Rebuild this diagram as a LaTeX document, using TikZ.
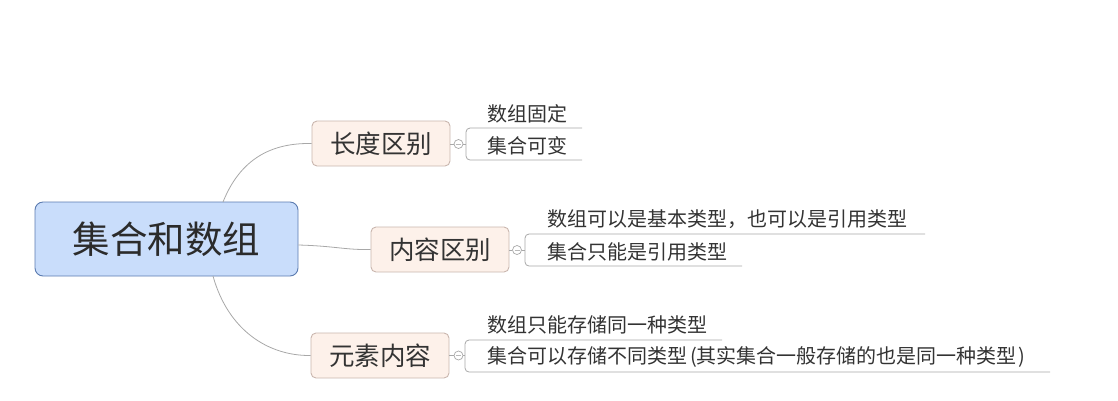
\documentclass[tikz,border=0pt]{standalone}
\usepackage{fontspec}
\newfontfamily\cjk{Noto Sans CJK SC}
\definecolor{rootfill}{HTML}{C9DDFB}
\definecolor{rootdraw}{HTML}{5B7BB0}
\definecolor{subfill}{HTML}{FDF1EA}
\definecolor{subdraw}{HTML}{C9B6AE}
\definecolor{linegray}{HTML}{A8A8A8}
\definecolor{txt}{HTML}{333333}
\begin{document}
\begin{tikzpicture}[x=1pt,y=-1pt,
  rootbox/.style={draw=rootdraw, fill=rootfill, line width=0.9pt, rounded corners=8pt,
    minimum width=263pt, minimum height=74pt, inner sep=0pt,
    font=\cjk\fontsize{37.5}{40}\selectfont, text=txt!85!black},
  subbox/.style={draw=subdraw, fill=subfill, line width=0.9pt, rounded corners=5pt,
    minimum width=138pt, minimum height=45pt, inner sep=0pt,
    font=\cjk\fontsize{25.5}{28}\selectfont, text=txt},
  leaf/.style={anchor=west, inner sep=0pt, font=\cjk\fontsize{20}{22}\selectfont, text=txt},
  conn/.style={draw=linegray, line width=0.8pt},
  tog/.style={circle, draw=linegray, fill=white, line width=0.7pt, minimum size=9pt, inner sep=0pt}
]
\useasboundingbox (0,0) rectangle (1118,400);

% root
\node[rootbox] (root) at (166.5,239) {集合和数组};

% branches
\node[subbox] (b1) at (381,143.5) {长度区别};
\node[subbox] (b2) at (440,249.5) {内容区别};
\node[subbox] (b3) at (380,355.5) {元素内容};

% root connectors
\coordinate (r1) at (223,202);
\coordinate (r3) at (213,276);
\draw[conn] (r1) .. controls (243,152) and (280,143) .. (b1.west);
\draw[conn] (root.east |- 0,245) .. controls (335,246) and (345,250) .. (b2.west);
\draw[conn] (r3) .. controls (228,330) and (268,356) .. (b3.west);

% toggles
\node[tog] (t1) at (458.5,144) {};
\node[tog] (t2) at (517,250) {};
\node[tog] (t3) at (458.5,355.5) {};
\foreach \t in {t1,t2,t3}{
  \draw[linegray!80, line width=0.6pt] ([xshift=-2.5pt]\t.center) -- ([xshift=2.5pt]\t.center);
}
\draw[conn] (b1.east |- t1) -- (t1.west);
\draw[conn] (b2.east |- t2) -- (t2.west);
\draw[conn] (b3.east |- t3) -- (t3.west);

% group 1
\coordinate (g1tl) at (466,128);
\coordinate (g1tr) at (582,128);
\coordinate (g1bl) at (466,160);
\coordinate (g1br) at (582,160);
\draw[conn, rounded corners=4pt] (g1tr) -- (g1tl) -- (g1bl) -- (g1br);
\draw[conn] (t1.east) -- (g1tl |- t1);
\node[leaf] (l1a) at (487,113.5) {数组固定};
\node[leaf] (l1b) at (487,146) {集合可变};

% group 2
\coordinate (g2tl) at (525,234);
\coordinate (g2tr) at (925,234);
\coordinate (g2bl) at (525,266);
\coordinate (g2br) at (742,266);
\draw[conn, rounded corners=4pt] (g2tr) -- (g2tl) -- (g2bl) -- (g2br);
\draw[conn] (t2.east) -- (g2tl |- t2);
\node[leaf] (l2a) at (547,219) {数组可以是基本类型，也可以是引用类型};
\node[leaf] (l2b) at (547,252) {集合只能是引用类型};

% group 3
\coordinate (g3tl) at (465,340);
\coordinate (g3tr) at (722,340);
\coordinate (g3bl) at (465,372);
\coordinate (g3br) at (1050,372);
\draw[conn, rounded corners=4pt] (g3tr) -- (g3tl) -- (g3bl) -- (g3br);
\draw[conn] (t3.east) -- (g3tl |- t3);
\node[leaf] (l3a) at (487,325) {数组只能存储同一种类型};
\node[leaf] (l3b) at (487,357) {集合可以存储不同类型\hspace{3pt}(其实集合一般存储的也是同一种类型\hspace{2pt})};
\end{tikzpicture}
\end{document}
